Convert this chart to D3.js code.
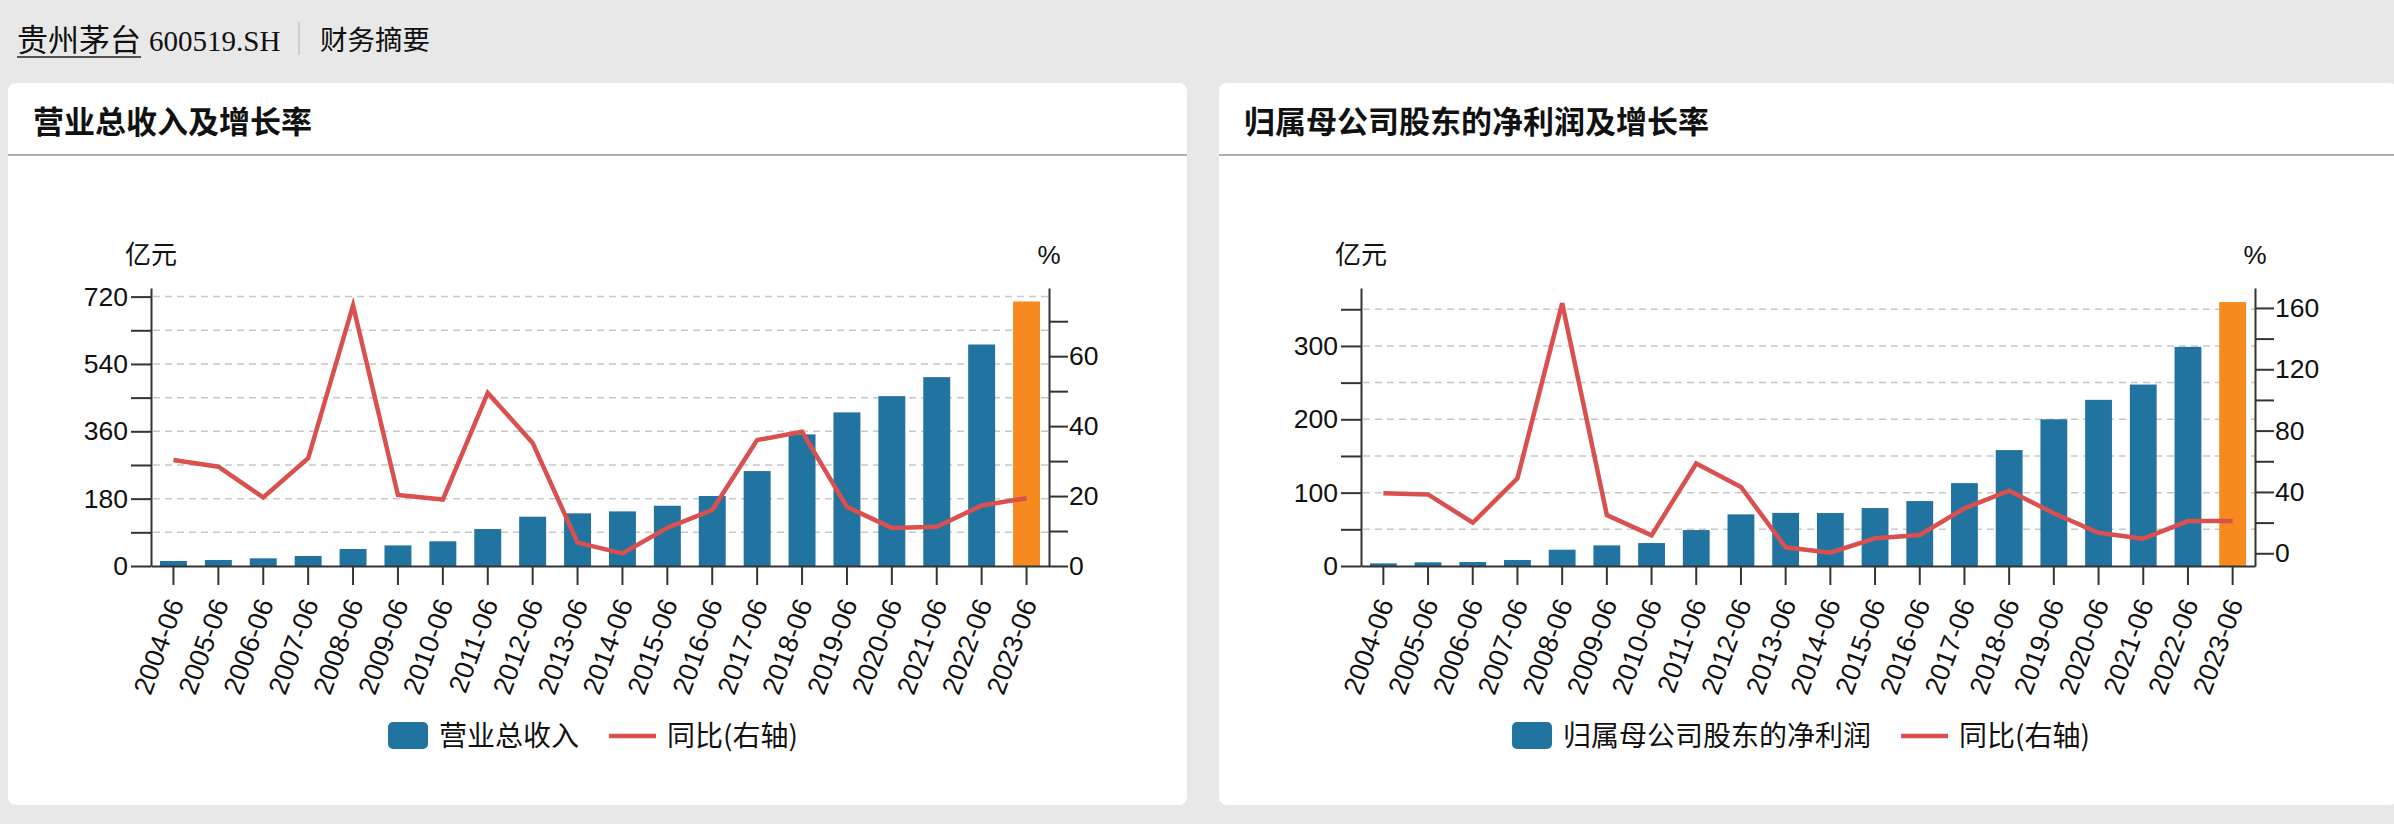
<!DOCTYPE html>
<html>
<head>
<meta charset="utf-8">
<script src="https://cdn.jsdelivr.net/npm/d3@7"></script>
<style>
  html, body { margin: 0; padding: 0; background: #e8e8e8; }
  svg { display: block; }
</style>
</head>
<body>
<svg id="page"></svg>
<script>
"use strict";

var w = 2394,
  h = 824;

// report periods (half-year)
var periods = ["2004-06", "2005-06", "2006-06", "2007-06", "2008-06", "2009-06", "2010-06",
  "2011-06", "2012-06", "2013-06", "2014-06", "2015-06", "2016-06", "2017-06", "2018-06",
  "2019-06", "2020-06", "2021-06", "2022-06", "2023-06"];

// 营业总收入 (亿元) and yoy (%)
var revenue = [13.4, 16.0, 20.5, 26.7, 45.4, 55.0, 66.0, 98.8, 131.8, 140.8, 146.0, 161.0,
  187.0, 253.7, 351.7, 410.5, 454.0, 504.8, 592.0, 707.0];
var revenueYoy = [30.3, 28.4, 19.6, 30.8, 74.5, 20.3, 19.0, 49.5, 35.2, 6.7, 3.6, 10.9,
  16.0, 36.0, 38.4, 16.9, 10.9, 11.2, 17.3, 19.4];

// 归属母公司股东的净利润 (亿元) and yoy (%)
var netProfit = [3.6, 5.0, 5.4, 8.2, 22.2, 28.1, 31.3, 49.0, 70.4, 72.4, 72.2, 79.0,
  88.5, 113.0, 158.0, 200.0, 226.5, 247.4, 298.7, 359.8];
var netProfitYoy = [39.1, 38.4, 19.9, 48.9, 163.0, 24.9, 11.7, 58.5, 43.2, 3.9, 0.4, 9.8,
  11.9, 29.3, 40.8, 26.1, 13.4, 9.5, 21.0, 21.0];

// axis ticks (labels shown on every other tick)
var revenueTicks = [0, 90, 180, 270, 360, 450, 540, 630, 720];
var revenueYoyTicks = [0, 10, 20, 30, 40, 50, 60, 70];
var profitTicks = [0, 50, 100, 150, 200, 250, 300, 350];
var profitYoyTicks = [0, 20, 40, 60, 80, 100, 120, 140, 160];

var revenueDomain = [0, 743];
var revenueYoyDomain = [0, 79.5];
var profitDomain = [0, 379];
var profitYoyDomain = [-8.3, 173];

var blue = "#2173a0",
  orange = "#f68a1e",
  red = "#d9504f",
  axisColor = "#333",
  cjk = "'Noto Sans CJK SC', sans-serif",
  latin = "Helvetica, Arial, 'Liberation Sans', sans-serif";

var svg = d3.select("#page").attr("width", w).attr("height", h);

svg.append("rect").attr("width", w).attr("height", h).attr("fill", "#e8e8e8");

/**
 * Page header: stock name, code and section name.
 */
var drawHeader = function () {
  var name = svg.append("text")
    .attr("x", 17).attr("y", 51)
    .attr("font-family", cjk).attr("font-size", 31).attr("fill", "#111")
    .text("贵州茅台");
  var nw = name.node().getComputedTextLength();
  svg.append("line")
    .attr("x1", 17).attr("x2", 17 + nw)
    .attr("y1", 57).attr("y2", 57)
    .attr("stroke", "#555").attr("stroke-width", 2);
  svg.append("text")
    .attr("x", 25 + nw).attr("y", 51)
    .attr("font-family", "'Liberation Serif', 'DejaVu Serif', serif")
    .attr("font-size", 29).attr("fill", "#111")
    .text("600519.SH");
  svg.append("line")
    .attr("x1", 299).attr("x2", 299).attr("y1", 22).attr("y2", 55)
    .attr("stroke", "#c8c8c8").attr("stroke-width", 1.5);
  svg.append("text")
    .attr("x", 320).attr("y", 50)
    .attr("font-family", cjk).attr("font-size", 27.5).attr("fill", "#111")
    .text("财务摘要");
};

/**
 * Draw one card with a bar + line dual-axis chart.
 */
var drawChart = function (opt) {
  var g = svg.append("g");
  var cardW = 1179;

  g.append("rect")
    .attr("x", opt.cardX).attr("y", 83)
    .attr("width", cardW).attr("height", 722)
    .attr("rx", 8).attr("fill", "#fff");
  g.append("text")
    .attr("x", opt.cardX + 25).attr("y", 133)
    .attr("font-family", cjk).attr("font-size", 31).attr("font-weight", 700)
    .attr("fill", "#111")
    .text(opt.title);
  g.append("rect")
    .attr("x", opt.cardX).attr("y", 154)
    .attr("width", cardW).attr("height", 2)
    .attr("fill", "#b0b0b0");

  var x = d3.scaleBand()
    .domain(periods)
    .range([opt.x0, opt.x1])
    .paddingInner(0.4)
    .paddingOuter(0.2);
  var yL = d3.scaleLinear().domain(opt.leftDomain).range([566, 288]);
  var yR = d3.scaleLinear().domain(opt.rightDomain).range([566, 288]);

  // grid
  g.append("g")
    .selectAll("line")
    .data(opt.leftTicks.filter(function (d) { return d > 0; }))
    .join("line")
    .attr("x1", opt.x0 + 2).attr("x2", opt.x1)
    .attr("y1", function (d) { return yL(d); })
    .attr("y2", function (d) { return yL(d); })
    .attr("stroke", "#c8c8c8").attr("stroke-width", 1.5)
    .attr("stroke-dasharray", "7,5");

  // bars
  g.append("g")
    .selectAll("rect")
    .data(opt.bars)
    .join("rect")
    .attr("x", function (d, i) { return x(periods[i]); })
    .attr("width", x.bandwidth())
    .attr("y", function (d) { return yL(d); })
    .attr("height", function (d) { return yL(0) - yL(d); })
    .attr("fill", function (d, i) { return i === opt.bars.length - 1 ? orange : blue; });

  // yoy line
  var line = d3.line()
    .x(function (d, i) { return x(periods[i]) + x.bandwidth() / 2; })
    .y(function (d) { return yR(d); });
  g.append("path")
    .datum(opt.yoy)
    .attr("d", line)
    .attr("fill", "none")
    .attr("stroke", red)
    .attr("stroke-width", 4.5)
    .attr("stroke-linejoin", "miter");

  var styleAxis = function (sel) {
    sel.select(".domain").attr("stroke", axisColor).attr("stroke-width", 2);
    sel.selectAll(".tick line").attr("stroke", axisColor).attr("stroke-width", 2);
    sel.selectAll("text")
      .attr("font-family", latin).attr("font-size", 26.5).attr("fill", "#111");
  };

  // left axis
  var axL = g.append("g")
    .attr("transform", "translate(" + opt.x0 + ",0)")
    .call(d3.axisLeft(yL)
      .tickValues(opt.leftTicks)
      .tickSize(20).tickSizeOuter(0).tickPadding(3)
      .tickFormat(function (d, i) { return i % 2 === 0 ? d : ""; }));
  styleAxis(axL);

  // right axis
  var axR = g.append("g")
    .attr("transform", "translate(" + opt.x1 + ",0)")
    .call(d3.axisRight(yR)
      .tickValues(opt.rightTicks)
      .tickSize(19).tickSizeOuter(0).tickPadding(1)
      .tickFormat(function (d, i) { return i % 2 === 0 ? d : ""; }));
  styleAxis(axR);

  // bottom axis
  var axB = g.append("g")
    .attr("transform", "translate(0,566)")
    .call(d3.axisBottom(x).tickSize(19).tickSizeOuter(0));
  styleAxis(axB);
  axB.selectAll("text")
    .attr("font-size", 27)
    .attr("x", 0).attr("y", 0).attr("dy", "0.35em")
    .attr("transform", "translate(2,34) rotate(-70)")
    .style("text-anchor", "end");

  // unit labels
  g.append("text")
    .attr("x", opt.x0).attr("y", 264)
    .attr("text-anchor", "middle")
    .attr("font-family", cjk).attr("font-size", 26).attr("fill", "#111")
    .text("亿元");
  g.append("text")
    .attr("x", opt.x1).attr("y", 264)
    .attr("text-anchor", "middle")
    .attr("font-family", latin).attr("font-size", 26).attr("fill", "#111")
    .text("%");

  // legend
  var lg = g.append("g");
  lg.append("rect")
    .attr("x", 0).attr("y", -14).attr("width", 40).attr("height", 27)
    .attr("rx", 5).attr("fill", blue);
  var t1 = lg.append("text")
    .attr("x", 51).attr("y", 0).attr("dy", "0.35em")
    .attr("font-family", cjk).attr("font-size", 28).attr("fill", "#111")
    .text(opt.barName);
  var l1 = 51 + t1.node().getComputedTextLength() + 30;
  lg.append("line")
    .attr("x1", l1).attr("x2", l1 + 47).attr("y1", 0).attr("y2", 0)
    .attr("stroke", red).attr("stroke-width", 4.5);
  var t2 = lg.append("text")
    .attr("x", l1 + 58).attr("y", 0).attr("dy", "0.35em")
    .attr("font-family", cjk).attr("font-size", 28).attr("fill", "#111")
    .text("同比(右轴)");
  var total = l1 + 58 + t2.node().getComputedTextLength();
  var cx = (opt.x0 + opt.x1) / 2 - 7;
  lg.attr("transform", "translate(" + (cx - total / 2) + ",736)");
};

drawHeader();

drawChart({
  cardX: 8,
  title: "营业总收入及增长率",
  barName: "营业总收入",
  bars: revenue,
  yoy: revenueYoy,
  leftTicks: revenueTicks,
  rightTicks: revenueYoyTicks,
  leftDomain: revenueDomain,
  rightDomain: revenueYoyDomain,
  x0: 151,
  x1: 1049
});

drawChart({
  cardX: 1219,
  title: "归属母公司股东的净利润及增长率",
  barName: "归属母公司股东的净利润",
  bars: netProfit,
  yoy: netProfitYoy,
  leftTicks: profitTicks,
  rightTicks: profitYoyTicks,
  leftDomain: profitDomain,
  rightDomain: profitYoyDomain,
  x0: 1361,
  x1: 2255
});
</script>
</body>
</html>
